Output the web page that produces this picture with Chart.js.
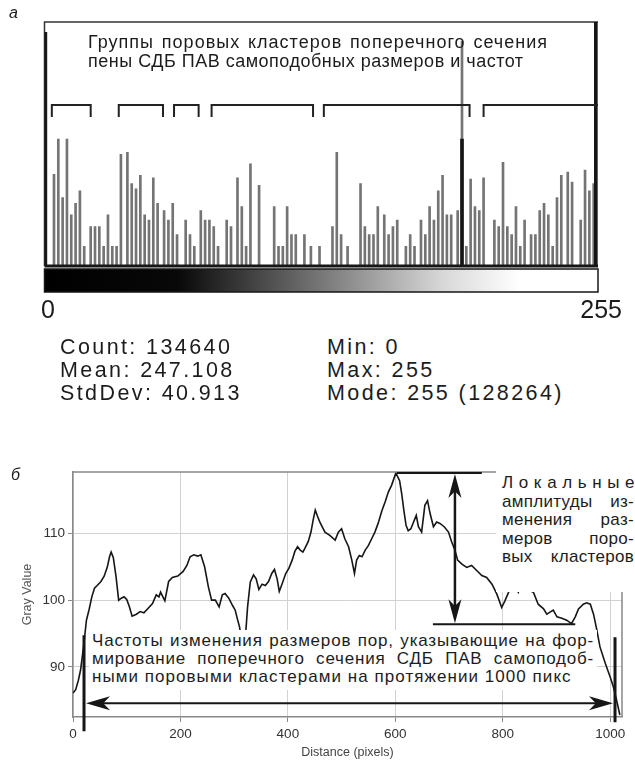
<!DOCTYPE html>
<html>
<head>
<meta charset="utf-8">
<script src="https://cdn.jsdelivr.net/npm/chart.js@4.4.1/dist/chart.umd.min.js"></script>
<style>
  body { margin: 0; width: 635px; height: 762px; background: #fff; position: relative; overflow: hidden;
         font-family: "Liberation Sans", Arial, sans-serif; color: #1c1c1c; }
  canvas { position: absolute; left: 0; }
  #hist { top: 0; }
  #profile { top: 460px; }
  .t { position: absolute; white-space: nowrap; }
  .panel { font-style: italic; font-size: 16px; }
  .just { text-align: justify; text-align-last: justify; white-space: normal; }
  .box { position: absolute; background: #fff; }
  .stats { font-size: 21.5px; line-height: 23px; letter-spacing: 2.4px; }
</style>
</head>
<body>
<canvas id="hist" width="635" height="300"></canvas>
<canvas id="profile" width="635" height="302"></canvas>

<div class="t panel" style="left:9px;top:4px;">а</div>
<div class="t panel" style="left:11px;top:466px;">б</div>

<div class="t" style="left:88px;top:33px;font-size:18px;line-height:19px;letter-spacing:0.5px;">
  <div class="just" style="width:460px;letter-spacing:1px;">Группы поровых кластеров поперечного сечения</div>
  <div>пены СДБ ПАВ самоподобных размеров и частот</div>
</div>

<div class="t" style="left:41px;top:297px;font-size:25px;line-height:25px;">0</div>
<div class="t" style="right:13px;top:297px;font-size:25px;line-height:25px;">255</div>

<div class="t stats" style="left:60px;top:335.5px;">Count: 134640<br>Mean: 247.108<br>StdDev: 40.913</div>
<div class="t stats" style="left:327px;top:335.5px;">Min: 0<br>Max: 255<br>Mode: 255 (128264)</div>

<div class="box" style="left:89px;top:630px;width:508px;height:60px;"></div>
<div class="t" style="left:92px;top:632px;font-size:17px;line-height:18px;letter-spacing:0.8px;">
  <div class="just" style="width:502px;">Частоты изменения размеров пор, указывающие на фор-</div>
  <div class="just" style="width:502px;">мирование поперечного сечения СДБ ПАВ самоподоб-</div>
  <div style="letter-spacing:1.05px;">ными поровыми кластерами на протяжении 1000 пикс</div>
</div>

<div class="box" style="left:496px;top:469px;width:139px;height:123px;"></div>
<div class="t" style="left:502px;top:474px;font-size:17px;line-height:18.5px;letter-spacing:0.3px;">
  <div style="letter-spacing:5.6px;">Локальные</div>
  <div class="just" style="width:132px;">амплитуды из-</div>
  <div class="just" style="width:132px;">менения раз-</div>
  <div class="just" style="width:132px;">меров поро-</div>
  <div class="just" style="width:132px;">вых кластеров</div>
</div>

<script>
// ---- histogram (log-scaled counts, every populated bin) ----
const histBins = [4, 6, 8, 10, 12, 14, 16, 18, 21, 23, 25, 27, 29, 31, 33, 35, 38, 40, 42, 44,
  46, 48, 50, 52, 55, 57, 59, 61, 65, 67, 69, 72, 74, 76, 78, 80, 84, 86, 89, 91,
  93, 95, 99, 106, 108, 110, 112, 114, 116, 120, 123, 127, 133, 135, 137, 140, 146, 148, 150, 152,
  154, 157, 159, 161, 163, 167, 169, 171, 174, 176, 178, 180, 182, 184, 186, 188, 191, 193, 195, 197,
  199, 201, 203, 208, 210, 212, 214, 216, 218, 220, 222, 225, 227, 229, 231, 233, 235, 237, 239, 242,
  244, 248, 250, 252, 254];
const histCounts = [25, 86, 11, 86, 6, 9, 14, 2, 4, 4, 4, 2, 6, 2, 2, 50, 54, 18, 15, 24,
  6, 5, 22, 9, 7, 5, 9, 3, 5, 3, 2, 7, 5, 5, 4, 2, 5, 4, 22, 8,
  2, 36, 17, 8, 2, 2, 8, 3, 3, 3, 2, 2, 4, 54, 3, 2, 18, 4, 3, 3,
  8, 6, 3, 4, 5, 2, 3, 2, 5, 3, 8, 5, 14, 24, 6, 6, 7, 2640, 2, 21,
  8, 7, 22, 5, 4, 38, 4, 3, 8, 2, 5, 3, 3, 7, 9, 6, 2, 11, 24, 27,
  19, 5, 29, 14, 18];
// linear histogram drawn in black on top (only these bins rise visibly)
const linearBins = [0, 193, 255];
const linearCounts = [3620, 86, 128264];
// bracketed groups of clusters (bin ranges)
const groupFrom = [3, 34, 59.6, 77, 129, 203];
const groupTo = [21, 54.5, 71, 124, 196.5, 257];

// ---- line profile ----
const distanceTicks = [0, 200, 400, 600, 800, 1000];
const grayTicks = [90, 100, 110];
const distance = [0, 5, 10, 14, 18, 21, 25, 30, 35, 40, 45, 52, 58, 64, 68, 71, 75, 80, 85, 90,
  95, 100, 105, 110, 118, 125, 132, 140, 148, 155, 160, 163, 171, 178, 185, 195, 205, 212, 218, 225,
  232, 238, 245, 252, 258, 265, 272, 278, 283, 290, 297, 302, 306, 310, 315, 318, 321, 325, 330, 336,
  341, 346, 352, 358, 364, 370, 375, 380, 384, 390, 396, 402, 408, 413, 418, 423, 428, 433, 438, 443,
  447, 451, 455, 460, 469, 478, 488, 494, 500, 506, 513, 519, 524, 528, 533, 538, 544, 550, 556, 562,
  568, 575, 581, 587, 593, 601, 608, 612, 616, 620, 624, 629, 634, 639, 643, 649, 655, 660, 665, 671,
  677, 683, 691, 699, 705, 711, 716, 724, 733, 742, 752, 761, 770, 780, 789, 798, 804, 811, 817, 823,
  829, 835, 845, 857, 866, 876, 882, 888, 894, 901, 910, 919, 928, 935, 941, 950, 956, 963, 969, 974,
  981, 991, 1000, 1006, 1012, 1018];
const grayValue = [86.1, 86.6, 88.0, 89.5, 92.0, 94.0, 97.0, 98.6, 100.5, 101.8, 102.2, 102.8, 103.6, 105.0, 106.5, 107.2, 106.4, 103.6, 100.0, 100.3,
  100.5, 100.1, 99.0, 97.6, 97.9, 98.3, 98.1, 98.8, 99.5, 100.8, 100.5, 101.2, 99.9, 102.8, 103.4, 103.6, 104.3, 105.2, 106.5, 106.8,
  106.6, 106.8, 105.0, 102.0, 100.0, 100.0, 99.0, 100.8, 101.0, 100.3, 99.2, 98.5, 97.2, 96.0, 93.5, 92.5, 94.5, 99.0, 102.7, 103.8,
  103.2, 101.6, 102.4, 102.2, 102.8, 104.0, 104.6, 103.2, 101.3, 102.6, 104.0, 104.8, 106.0, 107.3, 108.0, 107.5, 107.2, 108.0, 108.8, 110.2,
  112.0, 113.5, 112.6, 111.6, 110.2, 109.7, 109.0, 110.2, 110.7, 109.2, 108.0, 106.0, 104.0, 106.0, 106.7, 106.5, 107.5, 108.2, 109.2, 110.2,
  111.5, 113.4, 114.7, 116.2, 117.2, 119.05, 117.9, 115.9, 113.4, 111.2, 110.4, 110.7, 111.7, 112.7, 111.0, 110.2, 114.2, 114.9, 112.9, 111.0,
  111.7, 111.5, 111.0, 110.2, 108.7, 107.5, 106.0, 105.4, 104.9, 105.2, 104.4, 103.7, 103.4, 102.4, 100.9, 98.9, 99.9, 101.2, 102.0, 102.3,
  101.2, 102.3, 101.6, 101.2, 99.4, 98.7, 97.9, 98.2, 98.5, 97.5, 97.3, 97.0, 96.5, 97.5, 98.7, 99.4, 99.6, 99.4, 97.9, 96.0,
  93.0, 90.5, 88.5, 87.0, 85.0, 82.8];

const ink = '#161616';

const histDecor = {
  id: 'histDecor',
  beforeDatasetsDraw(chart) {
    const { ctx, chartArea: a } = chart;
    ctx.save();
    ctx.strokeStyle = '#333';
    ctx.lineWidth = 1.5;
    ctx.beginPath();
    ctx.moveTo(a.left, a.bottom);
    ctx.lineTo(a.left, a.top);
    ctx.lineTo(a.right, a.top);
    ctx.stroke();
    ctx.restore();
  },
  afterDatasetsDraw(chart) {
    const { ctx, chartArea: a, scales: { x } } = chart;
    ctx.save();
    ctx.fillStyle = ink;
    ctx.fillRect(a.left, a.bottom - 1.5, a.right - a.left, 3);

    // group brackets
    ctx.strokeStyle = '#222';
    ctx.lineWidth = 2;
    const by = a.top + 83, leg = 12;
    groupFrom.forEach((b0, i) => {
      const x0 = x.getPixelForValue(b0);
      const x1 = Math.min(x.getPixelForValue(groupTo[i]), a.right);
      ctx.beginPath();
      ctx.moveTo(x0, by + leg);
      ctx.lineTo(x0, by);
      ctx.lineTo(x1, by);
      if (x1 < a.right) ctx.lineTo(x1, by + leg);
      ctx.stroke();
    });

    // gray-level LUT bar
    const gx0 = a.left, gx1 = a.right, gy = a.bottom + 3, gh = 23;
    const g = ctx.createLinearGradient(gx0, 0, gx1, 0);
    g.addColorStop(0, '#000');
    g.addColorStop(0.24, '#080808');
    g.addColorStop(0.5, '#777');
    g.addColorStop(0.72, '#d8d8d8');
    g.addColorStop(0.86, '#fff');
    g.addColorStop(1, '#fff');
    ctx.fillStyle = g;
    ctx.fillRect(gx0, gy, gx1 - gx0, gh);
    ctx.strokeStyle = ink;
    ctx.lineWidth = 1.5;
    ctx.strokeRect(gx0, gy, gx1 - gx0, gh);
    ctx.restore();
  }
};

new Chart(document.getElementById('hist'), {
  type: 'bar',
  data: {
    datasets: [
      {
        data: linearBins.map((b, i) => ({ x: b, y: linearCounts[i] })),
        backgroundColor: ink,
        barThickness: 3,
        grouped: false,
        order: 1,
      },
      {
        data: histBins.map((b, i) => ({ x: b, y: histCounts[i] })),
        backgroundColor: '#747474',
        barThickness: 2,
        grouped: false,
        order: 2,
      },
    ],
  },
  options: {
    responsive: false,
    animation: false,
    devicePixelRatio: 1,
    layout: { padding: { left: 44.5, right: 37, top: 22, bottom: 34 } },
    plugins: { legend: { display: false }, tooltip: { enabled: false } },
    scales: {
      x: { type: 'linear', min: -0.4, max: 256, offset: false, display: false },
      y: { type: 'logarithmic', min: 1, max: 5200, display: false },
    },
  },
  plugins: [histDecor],
});

// annotation anchors for the profile, in data units
const spanFrom = 20.5, spanTo = 1009, spanLevel = 84.55;
const ampX = 711, ampTop = 119.05, ampBottom = 96.4;

function head(ctx, x, y, ang, len, half) {
  ctx.save();
  ctx.translate(x, y);
  ctx.rotate(ang);
  ctx.beginPath();
  ctx.moveTo(0, 0);
  ctx.lineTo(-len, -half);
  ctx.lineTo(-len * 0.72, 0);
  ctx.lineTo(-len, half);
  ctx.closePath();
  ctx.fill();
  ctx.restore();
}

const profileDecor = {
  id: 'profileDecor',
  afterDraw(chart) {
    const { ctx, chartArea: a, scales: { x, y } } = chart;
    ctx.save();
    // rest of the plot frame
    ctx.strokeStyle = '#888';
    ctx.lineWidth = 1.5;
    ctx.beginPath();
    ctx.moveTo(a.left, a.top);
    ctx.lineTo(a.right, a.top);
    ctx.lineTo(a.right, a.bottom);
    ctx.stroke();

    ctx.strokeStyle = ink;
    ctx.fillStyle = ink;
    // 1000 px span
    const sx0 = x.getPixelForValue(spanFrom), sx1 = x.getPixelForValue(spanTo);
    const sy = y.getPixelForValue(spanLevel);
    ctx.lineWidth = 3;
    ctx.beginPath();
    ctx.moveTo(sx0, y.getPixelForValue(94.75));
    ctx.lineTo(sx0, y.getPixelForValue(80.35));
    ctx.moveTo(sx1, y.getPixelForValue(94.45));
    ctx.lineTo(sx1, y.getPixelForValue(81.7));
    ctx.stroke();
    ctx.lineWidth = 2;
    ctx.beginPath();
    ctx.moveTo(sx0 + 8, sy);
    ctx.lineTo(sx1 - 8, sy);
    ctx.stroke();
    head(ctx, sx0 + 2, sy, Math.PI, 24, 7);
    head(ctx, sx1 - 2, sy, 0, 24, 7);

    // local amplitude
    const ax = x.getPixelForValue(ampX);
    const at = y.getPixelForValue(ampTop), ab = y.getPixelForValue(ampBottom);
    ctx.lineWidth = 2;
    ctx.beginPath();
    ctx.moveTo(x.getPixelForValue(603), at);
    ctx.lineTo(x.getPixelForValue(761), at);
    ctx.moveTo(x.getPixelForValue(670), ab);
    ctx.lineTo(x.getPixelForValue(935), ab);
    ctx.stroke();
    ctx.lineWidth = 2.5;
    ctx.beginPath();
    ctx.moveTo(ax, at + 8);
    ctx.lineTo(ax, ab - 8);
    ctx.stroke();
    head(ctx, ax, at + 1, -Math.PI / 2, 24, 6.5);
    head(ctx, ax, ab - 1, Math.PI / 2, 24, 6.5);
    ctx.restore();
  }
};

const tickFont = { family: '"Liberation Sans", Arial, sans-serif', size: 13.5 };

new Chart(document.getElementById('profile'), {
  type: 'line',
  data: {
    datasets: [{
      data: distance.map((d, i) => ({ x: d, y: grayValue[i] })),
      borderColor: ink,
      borderWidth: 1.6,
      pointRadius: 0,
      tension: 0,
    }],
  },
  options: {
    responsive: false,
    animation: false,
    devicePixelRatio: 1,
    layout: { padding: { left: 0, right: 13, top: 12, bottom: 0 } },
    plugins: { legend: { display: false }, tooltip: { enabled: false } },
    scales: {
      x: {
        type: 'linear',
        min: 0,
        max: 1022,
        afterBuildTicks: s => { s.ticks = distanceTicks.map(v => ({ value: v })); },
        ticks: { font: tickFont, color: '#333', padding: 4, maxRotation: 0, callback: v => String(v) },
        grid: { color: '#d2d2d2', tickLength: 5, tickColor: '#888' },
        border: { color: '#888', width: 1.5 },
        title: { display: true, text: 'Distance (pixels)', color: '#444',
                 font: { family: tickFont.family, size: 12.5 }, padding: { top: 0, bottom: 2 } },
        afterFit: s => { s.height = 45; },
      },
      y: {
        min: 82.5,
        max: 119.2,
        afterBuildTicks: s => { s.ticks = grayTicks.map(v => ({ value: v })); },
        ticks: { font: tickFont, color: '#333', padding: 3, callback: v => String(v) },
        grid: { color: '#d2d2d2', tickLength: 5, tickColor: '#888' },
        border: { color: '#888', width: 1.5 },
        title: { display: true, text: 'Gray Value', color: '#555',
                 font: { family: tickFont.family, size: 12.5 }, padding: { top: 20.5, bottom: 0 } },
        afterFit: s => { s.width = 73; },
      },
    },
  },
  plugins: [profileDecor],
});
</script>
</body>
</html>
